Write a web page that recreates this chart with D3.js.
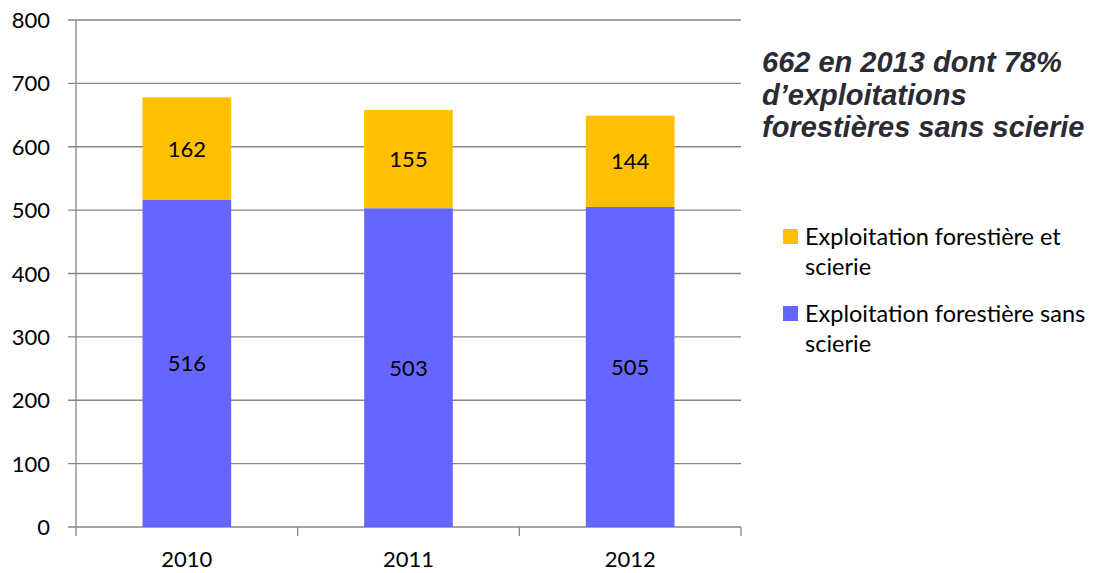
<!DOCTYPE html>
<html>
<head>
<meta charset="utf-8">
<script src="https://cdn.jsdelivr.net/npm/d3@7"></script>
<style>
  body { margin: 0; background: #fff; }
  svg text { font-family: Lato, "Open Sans", sans-serif; }
  svg text.note { font-family: "Liberation Sans", Arial, sans-serif; }
</style>
</head>
<body>
<div id="chart"></div>
<script>
/* data */
const years = ['2010', '2011', '2012'];
const sansScierie = [516, 503, 505];
const avecScierie = [162, 155, 144];
const yTicks = [0, 100, 200, 300, 400, 500, 600, 700, 800];
const titleLines = ['662 en 2013 dont 78%', 'd\u2019exploitations', 'forestières sans scierie'];

const W = 1105, H = 573;
const plot = { left: 76, right: 741, top: 20, bottom: 527 };
const grey = '#868686';
const colors = { avec: '#FFC000', sans: '#6666FF' };

const svg = d3.select('#chart').append('svg')
  .attr('width', W).attr('height', H);

const x = d3.scaleBand().domain(years).range([plot.left, plot.right]).padding(0);
const y = d3.scaleLinear().domain([0, 800]).range([plot.bottom, plot.top]);
const barW = x.bandwidth() * 0.4;

// gridlines + y ticks
svg.append('g').selectAll('line').data(yTicks).join('line')
  .attr('x1', plot.left - 8).attr('x2', plot.right)
  .attr('y1', d => y(d)).attr('y2', d => y(d))
  .attr('stroke', grey).attr('stroke-width', 1.3);

svg.append('g').selectAll('text').data(yTicks).join('text')
  .attr('x', 50).attr('y', d => y(d) + 8)
  .attr('text-anchor', 'end').attr('font-size', 22).attr('fill', '#000')
  .text(d => d);

// y axis line
svg.append('line')
  .attr('x1', plot.left).attr('x2', plot.left)
  .attr('y1', plot.top).attr('y2', plot.bottom)
  .attr('stroke', grey).attr('stroke-width', 1.3);

// x-axis category boundary ticks
const bounds = years.map(d => x(d)).concat([plot.right]);
svg.append('g').selectAll('line').data(bounds).join('line')
  .attr('x1', d => d).attr('x2', d => d)
  .attr('y1', plot.bottom).attr('y2', plot.bottom + 9)
  .attr('stroke', grey).attr('stroke-width', 1.3);

// bars
const rows = years.map((yr, i) => ({ yr, sans: sansScierie[i], avec: avecScierie[i] }));
const bx = d => x(d.yr) + (x.bandwidth() - barW) / 2;

svg.append('g').selectAll('rect').data(rows).join('rect')
  .attr('x', bx).attr('width', barW)
  .attr('y', d => y(d.sans)).attr('height', d => y(0) - y(d.sans))
  .attr('fill', colors.sans);

svg.append('g').selectAll('rect').data(rows).join('rect')
  .attr('x', bx).attr('width', barW)
  .attr('y', d => y(d.sans + d.avec)).attr('height', d => y(d.sans) - y(d.sans + d.avec))
  .attr('fill', colors.avec);

// data labels
const cx = d => x(d.yr) + x.bandwidth() / 2;
svg.append('g').selectAll('text').data(rows).join('text')
  .attr('x', cx).attr('y', d => y(d.sans / 2) + 8)
  .attr('text-anchor', 'middle').attr('font-size', 22).text(d => d.sans);
svg.append('g').selectAll('text').data(rows).join('text')
  .attr('x', cx).attr('y', d => y(d.sans + d.avec / 2) + 8)
  .attr('text-anchor', 'middle').attr('font-size', 22).text(d => d.avec);

// x labels
svg.append('g').selectAll('text').data(years).join('text')
  .attr('x', d => x(d) + x.bandwidth() / 2).attr('y', 567)
  .attr('text-anchor', 'middle').attr('font-size', 22).text(d => d);

// annotation
svg.append('g').selectAll('text').data(titleLines).join('text')
  .attr('class', 'note')
  .attr('x', 762).attr('y', (d, i) => 72 + i * 32.5)
  .attr('font-weight', 'bold').attr('font-style', 'italic')
  .attr('font-size', 29).attr('fill', '#2b2b33')
  .text(d => d);

// legend
const legend = [
  { color: colors.avec, lines: ['Exploitation forestière et', 'scierie'], top: 229 },
  { color: colors.sans, lines: ['Exploitation forestière sans', 'scierie'], top: 306 }
];
const lg = svg.append('g').selectAll('g').data(legend).join('g');
lg.append('rect')
  .attr('x', 783).attr('y', d => d.top).attr('width', 15).attr('height', 15)
  .attr('fill', d => d.color);
lg.each(function(d) {
  d3.select(this).selectAll('text').data(d.lines).join('text')
    .attr('x', 805).attr('y', (t, i) => d.top + 16 + i * 30)
    .attr('font-size', 23.5).attr('fill', '#000').text(t => t);
});
</script>
</body>
</html>
